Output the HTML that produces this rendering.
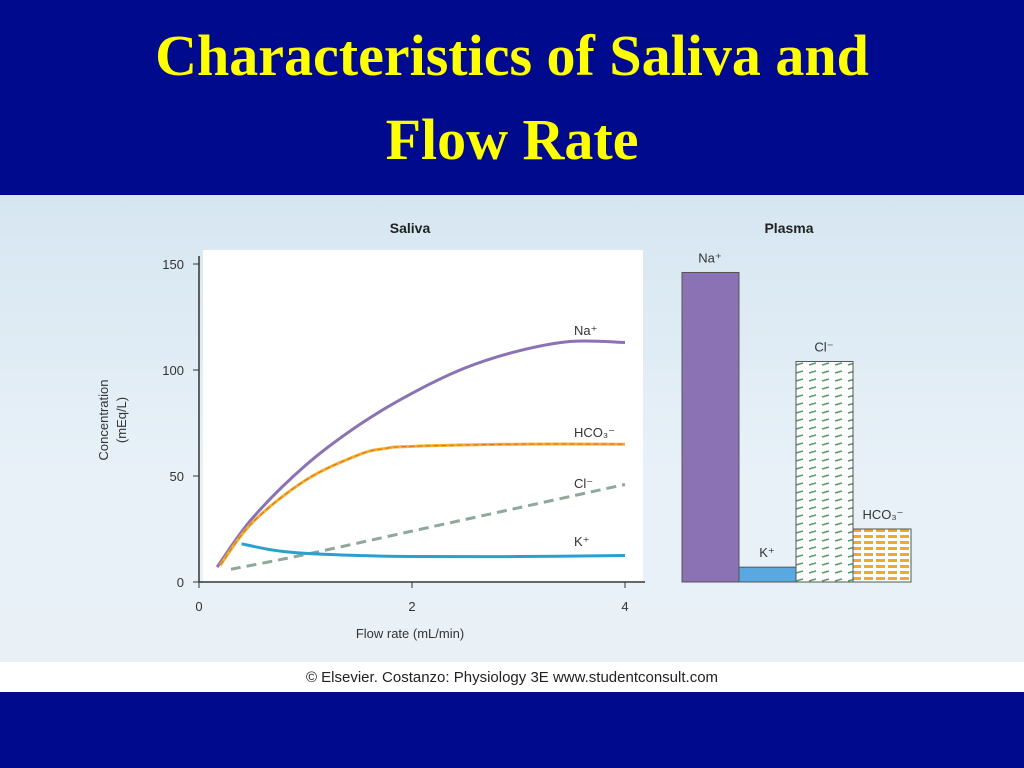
<!DOCTYPE html>
<html><head><meta charset="utf-8"><style>
body{margin:0;width:1024px;height:768px;background:#000a8c;overflow:hidden;font-family:"Liberation Sans",sans-serif}
#title{position:absolute;left:0;top:14px;width:1024px;text-align:center;color:#ffff00;font:bold 58px/84px "Liberation Serif",serif}
#panel{position:absolute;left:0;top:195px;width:1024px;height:467px;background:linear-gradient(180deg,#d6e6f1,#e8f1f8 60%,#e9f1f7)}
#credit{position:absolute;left:0;top:662px;width:1024px;height:30px;background:#fff;text-align:center;font:15px/32px "Liberation Sans",sans-serif;color:#222}
svg{position:absolute;left:0;top:0}
</style></head><body>
<div id="title">Characteristics of Saliva and<br>Flow Rate</div>
<div id="panel"></div>
<div id="credit">© Elsevier. Costanzo: Physiology 3E www.studentconsult.com</div>
<svg id="chart" width="1024" height="768" font-family="Liberation Sans, sans-serif">
<defs>
<pattern id="clpat" width="13" height="8" patternUnits="userSpaceOnUse"><rect width="13" height="8" fill="#fff"/><line x1="3" y1="5" x2="10" y2="3" stroke="#5a9a6a" stroke-width="1.5"/></pattern>
<pattern id="hcpat" width="12" height="6" patternUnits="userSpaceOnUse"><rect width="12" height="6" fill="#fff"/><rect x="0" y="1" width="9" height="3" fill="#f0a830"/></pattern>
</defs>
<rect x="203" y="250" width="440" height="333" fill="#fff"/>
<g id="g"></g>
</svg>
<script>
const xTicks=[0,2,4];
const yTicks=[0,50,100,150];
const naX=[0.17,0.5,1,1.5,2,2.5,3,3.5,4];
const naY=[7,30,55,74,89,101,109,113.5,113];
const hcX=[0.2,0.5,1,1.5,1.75,2,3,4];
const hcY=[8,28,48,60,63,64,65,65];
const clX=[0.3,1,2,3,4];
const clY=[6,13,24,35,46];
const kX=[0.4,0.7,1,1.5,2,3,4];
const kY=[18,15,13.5,12.5,12,12,12.5];
const barIons=["Na+","K+","Cl−","HCO3−"];
const barVals=[146,7,104,25];

const X=v=>199+v*106.5, Y=v=>582-v*2.12;
const g=document.getElementById('g'), NS='http://www.w3.org/2000/svg';
function el(t,a,txt){const e=document.createElementNS(NS,t);for(const k in a)e.setAttribute(k,a[k]);if(txt!=null)e.textContent=txt;g.appendChild(e);return e;}
function path(xs,ys){const p=xs.map((x,i)=>[X(x),Y(ys[i])]);let d='M'+p[0];for(let i=0;i<p.length-1;i++){const a=p[i-1]||p[i],b=p[i],c=p[i+1],e=p[i+2]||c;d+=' C'+(b[0]+(c[0]-a[0])/6)+','+(b[1]+(c[1]-a[1])/6)+' '+(c[0]-(e[0]-b[0])/6)+','+(c[1]-(e[1]-b[1])/6)+' '+c;}return d;}

let e;
e=el('line',{x1:199,y1:Y(150)-8,x2:199,y2:582,stroke:'#333','stroke-width':1.5});

e=el('line',{x1:199,y1:582,x2:645,y2:582,stroke:'#333','stroke-width':1.5});

yTicks.forEach(v=>{el('line',{x1:193,y1:Y(v),x2:199,y2:Y(v),stroke:'#333'});
 e=el('text',{x:184,y:Y(v)+5,'text-anchor':'end','font-size':13,fill:'#333'},v);
 });
xTicks.forEach(v=>{el('line',{x1:X(v),y1:582,x2:X(v),y2:588,stroke:'#333'});
 e=el('text',{x:X(v),y:611,'text-anchor':'middle','font-size':13,fill:'#333'},v);
 });
e=el('text',{x:410,y:638,'text-anchor':'middle','font-size':13,fill:'#333'},'Flow rate (mL/min)');

e=el('text',{transform:'translate(108,420) rotate(-90)','text-anchor':'middle','font-size':13,fill:'#333'},'Concentration');

e=el('text',{transform:'translate(126,420) rotate(-90)','text-anchor':'middle','font-size':13,fill:'#333'},'(mEq/L)');

e=el('text',{x:410,y:233,'text-anchor':'middle','font-size':14,'font-weight':'bold',fill:'#222'},'Saliva');

e=el('text',{x:789,y:233,'text-anchor':'middle','font-size':14,'font-weight':'bold',fill:'#222'},'Plasma');


e=el('path',{d:path(clX,clY),fill:'none',stroke:'#8fa89a','stroke-width':3,'stroke-dasharray':'10,6'});

e=el('path',{d:path(naX,naY),fill:'none',stroke:'#8a72b4','stroke-width':3});

e=el('path',{d:path(hcX,hcY),fill:'none',stroke:'#f0b030','stroke-width':3});

el('path',{d:path(hcX,hcY),fill:'none',stroke:'#e07020','stroke-width':1,'stroke-dasharray':'5,3'});
e=el('path',{d:path(kX,kY),fill:'none',stroke:'#2aa0d0','stroke-width':3});


[['Na⁺',335],['HCO₃⁻',437],['Cl⁻',488],['K⁺',546]].forEach(l=>{
 e=el('text',{x:574,y:l[1],'font-size':13,fill:'#333'},l[0]);
 });

const bx=[682,739,796,853], bw=[57,57,57,58], fills=['#8a72b4','#5aa8e0','url(#clpat)','url(#hcpat)'];
const lbl=['Na⁺','K⁺','Cl⁻','HCO₃⁻'];
barVals.forEach((v,i)=>{
 e=el('rect',{x:bx[i],y:Y(v),width:bw[i],height:582-Y(v),fill:fills[i],stroke:'#555','stroke-width':1});
 
 e=el('text',{x:bx[i]+(i==3?30:28),y:Y(v)-10,'text-anchor':'middle','font-size':13,fill:'#333'},lbl[i]);
 
});
</script>
</body></html>
